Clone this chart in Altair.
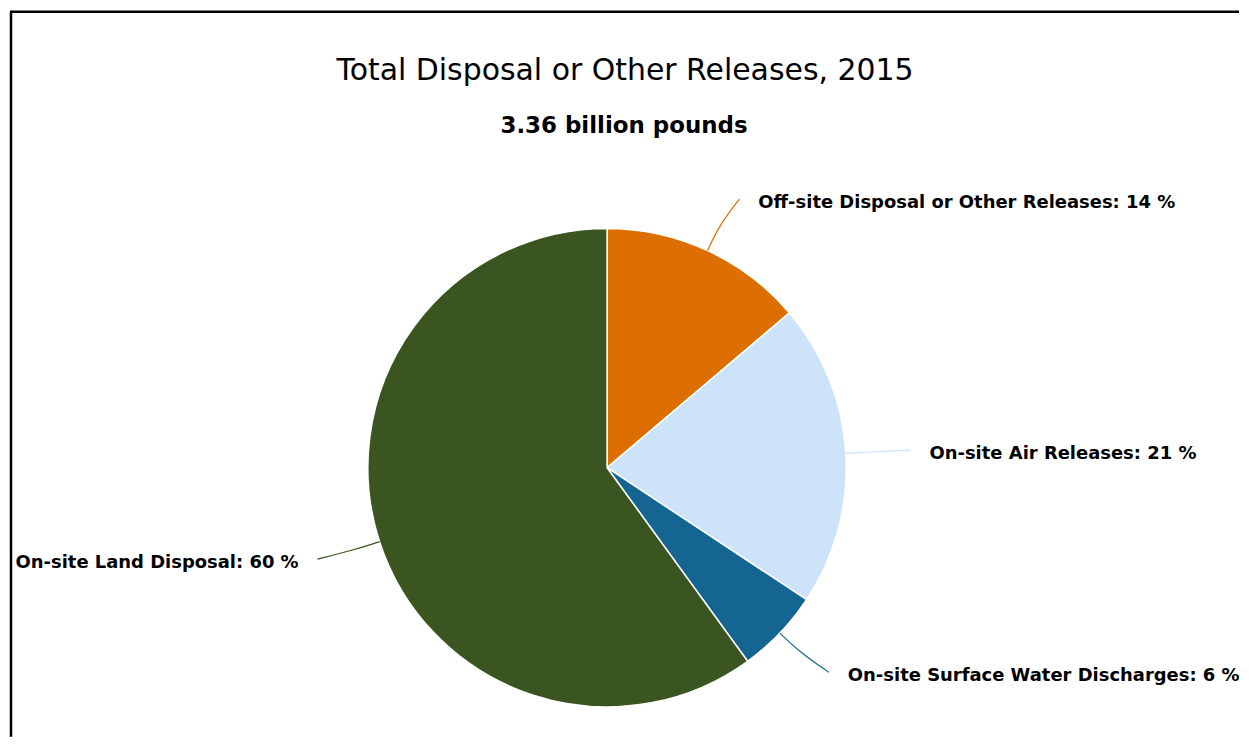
import altair as alt
import pandas as pd

categories = [
    "Off-site Disposal or Other Releases",
    "On-site Air Releases",
    "On-site Surface Water Discharges",
    "On-site Land Disposal",
]
values = [13.8, 20.5, 5.7, 60.0]
pct_labels = ["14 %", "21 %", "6 %", "60 %"]
colors = ["#DD6E00", "#CCE3FA", "#146591", "#3A5520"]

title_text = "Total Disposal or Other Releases, 2015"
subtitle_text = "3.36 billion pounds"

df = pd.DataFrame({
    "category": categories,
    "value": values,
    "pct": pct_labels,
    "order": list(range(len(categories))),
})
df["label"] = df["category"] + ": " + df["pct"]

CX, CY, R = 599, 460, 240
LR = 297  # label radius
FONT = "DejaVu Sans"

color = alt.Color("category:N", scale=alt.Scale(domain=categories, range=colors), legend=None)

pie = alt.Chart(df).mark_arc(outerRadius=R, stroke="white", strokeWidth=1.5).encode(
    theta=alt.Theta("value:Q", stack=True),
    color=color,
    order=alt.Order("order:Q"),
    x=alt.value(CX),
    y=alt.value(CY),
)

geo = (
    alt.Chart(df)
    .transform_window(cum="sum(value)", sort=[alt.SortField("order")], frame=[None, 0])
    .transform_joinaggregate(total="sum(value)")
    .transform_calculate(
        mid="(datum.cum - datum.value/2) / datum.total * 2 * PI",
    )
    .transform_calculate(
        side="sin(datum.mid) >= 0 ? 1 : -1",
    )
    .transform_calculate(
        lx=f"{CX} + {LR}*sin(datum.mid) + datum.side*27",
        ly=f"{CY} - {LR}*cos(datum.mid) + 4",
    )
)

connectors = (
    geo.transform_calculate(
        x0=f"{CX} + {R}*sin(datum.mid)",
        y0=f"{CY} - {R}*cos(datum.mid)",
        x1=f"{CX} + 268*sin(datum.mid)",
        y1=f"{CY} - 268*cos(datum.mid)",
        x2="datum.lx - datum.side*19",
        y2=f"{CY} - {LR}*cos(datum.mid)",
    )
    .transform_fold(["x0", "x1", "x2"], as_=["pt", "px"])
    .transform_calculate(
        py="datum.pt == 'x0' ? datum.y0 : (datum.pt == 'x1' ? datum.y1 : datum.y2)",
        ptn="datum.pt == 'x0' ? 0 : (datum.pt == 'x1' ? 1 : 2)",
    )
    .mark_line(interpolate="basis", strokeWidth=1.2)
    .encode(
        x=alt.X("px:Q", scale=None, axis=None),
        y=alt.Y("py:Q", scale=None, axis=None),
        detail="category:N",
        color=color,
        order=alt.Order("ptn:Q"),
    )
)

label_style = dict(baseline="middle", font=FONT, fontSize=18, fontWeight="bold", color="#000000")

labels_right = geo.transform_filter("datum.side > 0").mark_text(align="left", **label_style).encode(
    x=alt.X("lx:Q", scale=None, axis=None),
    y=alt.Y("ly:Q", scale=None, axis=None),
    text="label:N",
)

labels_left = geo.transform_filter("datum.side < 0").mark_text(align="right", **label_style).encode(
    x=alt.X("lx:Q", scale=None, axis=None),
    y=alt.Y("ly:Q", scale=None, axis=None),
    text="label:N",
)

titles_df = pd.DataFrame({"t": [title_text]})
title = alt.Chart(titles_df).mark_text(
    align="center", baseline="middle", font=FONT, fontSize=30, color="#000000"
).encode(x=alt.value(617), y=alt.value(62), text="t:N")

sub_df = pd.DataFrame({"t": [subtitle_text]})
subtitle = alt.Chart(sub_df).mark_text(
    align="center", baseline="middle", font=FONT, fontSize=23, fontWeight="bold", color="#000000"
).encode(x=alt.value(616), y=alt.value(117), text="t:N")

border_left = alt.Chart(titles_df).mark_rule(color="#000000", strokeWidth=2.5).encode(
    x=alt.value(1), y=alt.value(2.5), y2=alt.value(730)
)
border_top = alt.Chart(titles_df).mark_rule(color="#000000", strokeWidth=2.5).encode(
    x=alt.value(0), x2=alt.value(1233), y=alt.value(2.5)
)

chart = (
    alt.layer(pie, connectors, labels_right, labels_left, title, subtitle, border_left, border_top)
    .properties(width=1233, height=728, padding=0, background="white")
    .configure_view(stroke=None)
)

chart.save("out.html", embed_options={"renderer": "svg", "actions": False})
